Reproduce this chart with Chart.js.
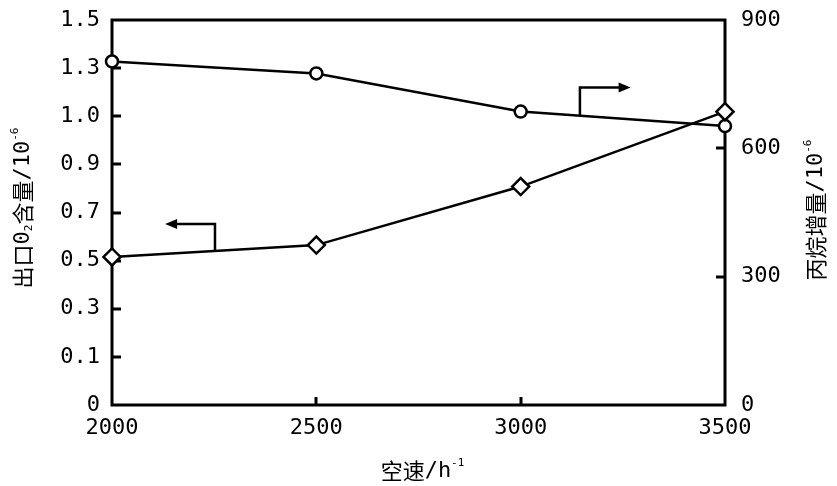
<!DOCTYPE html>
<html>
<head>
<meta charset="utf-8">
<script src="https://cdn.jsdelivr.net/npm/chart.js@4.4.1/dist/chart.umd.min.js"></script>
<style>
  html, body { margin: 0; padding: 0; background: #fff; }
  #wrap { width: 837px; height: 486px; }
</style>
</head>
<body>
<div id="wrap"><canvas id="chart"></canvas></div>
<script>
// data
const spaceVelocity = [2000, 2500, 3000, 3500];
const outletO2 = [0.577, 0.623, 0.851, 1.143];       // left axis, 10^-6
const propaneIncrease = [803, 775, 686, 652];        // right axis, 10^-6
const leftTickLabels = ['0', '0.1', '0.3', '0.5', '0.7', '0.9', '1.0', '1.3', '1.5'];
const rightTicks = [0, 300, 600, 900];
const xTicks = [2000, 2500, 3000, 3500];

// arrow pointing at the axis each series belongs to (data units)
const o2Arrow = { x: 2252, xEnd: 2130, yTop: 0.705 };
const propaneArrow = { x: 3145, xEnd: 3269, yTop: 742 };

const tickFont = "'DejaVu Sans Mono', 'Liberation Mono', monospace";
const cjkFont = "'Noto Sans CJK SC', sans-serif";

const toPoints = (xs, ys) => xs.map((x, i) => ({ x, y: ys[i] }));

// value of a series at x by following its line segments
const lineAt = (xs, ys, x) => {
  for (let i = 0; i < xs.length - 1; i++) {
    if (x >= xs[i] && x <= xs[i + 1]) {
      const t = (x - xs[i]) / (xs[i + 1] - xs[i]);
      return ys[i] + t * (ys[i + 1] - ys[i]);
    }
  }
  return ys[ys.length - 1];
};

const drawRich = (ctx, parts, cx, cy, rot) => {
  ctx.save();
  ctx.translate(cx, cy);
  ctx.rotate(rot);
  ctx.textBaseline = 'middle';
  ctx.textAlign = 'left';
  let total = 0;
  parts.forEach(p => {
    ctx.font = `${p.size}px ${p.font || cjkFont}`;
    p.w = ctx.measureText(p.t).width;
    total += p.w;
  });
  let x = -total / 2;
  parts.forEach(p => {
    ctx.font = `${p.size}px ${p.font || cjkFont}`;
    ctx.fillText(p.t, x, p.dy || 0);
    x += p.w;
  });
  ctx.restore();
};

const drawArrow = (ctx, x0, yLine, yTop, x1) => {
  ctx.beginPath();
  ctx.moveTo(x0, yLine);
  ctx.lineTo(x0, yTop);
  const dir = Math.sign(x1 - x0);
  ctx.lineTo(x1 - dir * 10, yTop);
  ctx.stroke();
  ctx.beginPath();
  ctx.moveTo(x1, yTop);
  ctx.lineTo(x1 - dir * 12, yTop - 5);
  ctx.lineTo(x1 - dir * 12, yTop + 5);
  ctx.closePath();
  ctx.fill();
};

const decorPlugin = {
  id: 'decor',
  beforeDatasetsDraw(chart) {
    const { ctx, chartArea: a, scales } = chart;
    ctx.save();
    ctx.strokeStyle = '#000';
    ctx.lineWidth = 3;
    ctx.strokeRect(a.left, a.top, a.right - a.left, a.bottom - a.top);

    // inward tick marks
    ctx.beginPath();
    scales.yL.ticks.forEach(t => {
      const y = Math.round(scales.yL.getPixelForValue(t.value));
      if (y > a.top + 2 && y < a.bottom - 2) { ctx.moveTo(a.left, y); ctx.lineTo(a.left + 9, y); }
    });
    scales.yR.ticks.forEach(t => {
      const y = Math.round(scales.yR.getPixelForValue(t.value));
      if (y > a.top + 2 && y < a.bottom - 2) { ctx.moveTo(a.right, y); ctx.lineTo(a.right - 9, y); }
    });
    scales.x.ticks.forEach(t => {
      const x = Math.round(scales.x.getPixelForValue(t.value));
      if (x > a.left + 2 && x < a.right - 2) { ctx.moveTo(x, a.bottom); ctx.lineTo(x, a.bottom - 8); }
    });
    ctx.stroke();

    // arrows
    ctx.lineWidth = 2.5;
    ctx.fillStyle = '#000';
    const xs = scales.x, yl = scales.yL, yr = scales.yR;
    drawArrow(ctx,
      xs.getPixelForValue(o2Arrow.x),
      yl.getPixelForValue(lineAt(spaceVelocity, outletO2, o2Arrow.x)),
      yl.getPixelForValue(o2Arrow.yTop),
      xs.getPixelForValue(o2Arrow.xEnd));
    drawArrow(ctx,
      xs.getPixelForValue(propaneArrow.x),
      yr.getPixelForValue(lineAt(spaceVelocity, propaneIncrease, propaneArrow.x)),
      yr.getPixelForValue(propaneArrow.yTop),
      xs.getPixelForValue(propaneArrow.xEnd));
    ctx.restore();
  },
  afterDraw(chart) {
    const { ctx, chartArea: a } = chart;
    ctx.save();
    ctx.fillStyle = '#000';
    drawRich(ctx, [
      { t: '出口', size: 22 },
      { t: '0', size: 22, font: tickFont },
      { t: '2', size: 11, font: tickFont, dy: 6 },
      { t: '含量', size: 22 },
      { t: '/10', size: 22, font: tickFont },
      { t: '-6', size: 11, font: tickFont, dy: -8 }
    ], 23, 208, -Math.PI / 2);
    drawRich(ctx, [
      { t: '丙烷增量', size: 22 },
      { t: '/10', size: 22, font: tickFont },
      { t: '-6', size: 11, font: tickFont, dy: -8 }
    ], 816, 210, -Math.PI / 2);
    drawRich(ctx, [
      { t: '空速', size: 22 },
      { t: '/h', size: 22, font: tickFont },
      { t: '-1', size: 11, font: tickFont, dy: -8 }
    ], (a.left + a.right) / 2 + 4, 471, 0);
    ctx.restore();
  }
};

const tickStyle = { color: '#000', font: { family: tickFont, size: 22 } };
const noPad = s => { s.paddingTop = 0; s.paddingBottom = 0; };

new Chart(document.getElementById('chart'), {
  type: 'line',
  data: {
    datasets: [
      {
        label: '出口O2含量',
        data: toPoints(spaceVelocity, outletO2),
        yAxisID: 'yL',
        borderColor: '#000',
        borderWidth: 2.5,
        pointStyle: 'rectRot',
        pointRadius: 8.5,
        pointBorderWidth: 2.5,
        pointBackgroundColor: '#fff',
        pointBorderColor: '#000',
        tension: 0,
        clip: false,
      },
      {
        label: '丙烷增量',
        data: toPoints(spaceVelocity, propaneIncrease),
        yAxisID: 'yR',
        borderColor: '#000',
        borderWidth: 2.5,
        pointStyle: 'circle',
        pointRadius: 6,
        pointBorderWidth: 2.5,
        pointBackgroundColor: '#fff',
        pointBorderColor: '#000',
        tension: 0,
        clip: false,
      },
    ],
  },
  options: {
    responsive: true,
    maintainAspectRatio: false,
    animation: false,
    layout: { padding: { top: 20, left: 0, right: 0, bottom: 0 } },
    plugins: {
      legend: { display: false },
      tooltip: { enabled: false },
    },
    scales: {
      x: {
        type: 'linear',
        position: 'bottom',
        min: 2000,
        max: 3500,
        afterBuildTicks: s => { s.ticks = xTicks.map(v => ({ value: v })); },
        ticks: { ...tickStyle, padding: 10, maxRotation: 0, autoSkip: false, callback: v => String(v) },
        grid: { display: false, drawTicks: false },
        border: { display: false },
        afterFit: s => { s.height = 81; s.paddingLeft = 0; s.paddingRight = 0; },
      },
      yL: {
        type: 'linear',
        position: 'left',
        min: 0,
        max: 1.5,
        afterBuildTicks: s => { s.ticks = leftTickLabels.map((_, i) => ({ value: i * 1.5 / 8 })); },
        ticks: { ...tickStyle, padding: 12, autoSkip: false, callback: (v, i) => leftTickLabels[i] },
        grid: { display: false, drawTicks: false },
        border: { display: false },
        afterFit: s => { s.width = 112; noPad(s); },
      },
      yR: {
        type: 'linear',
        position: 'right',
        min: 0,
        max: 900,
        afterBuildTicks: s => { s.ticks = rightTicks.map(v => ({ value: v })); },
        ticks: { ...tickStyle, padding: 16, autoSkip: false, callback: v => String(v) },
        grid: { display: false, drawTicks: false },
        border: { display: false },
        afterFit: s => { s.width = 112; noPad(s); },
      },
    },
  },
  plugins: [decorPlugin],
});
</script>
</body>
</html>
